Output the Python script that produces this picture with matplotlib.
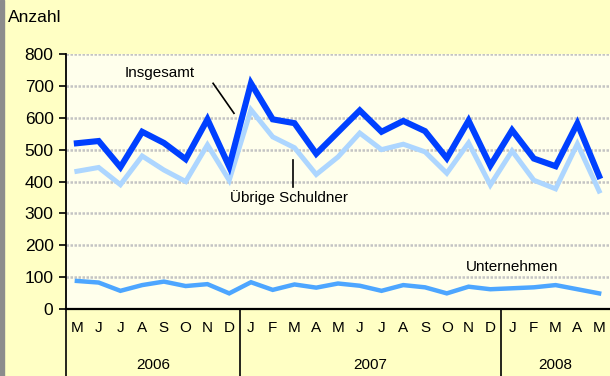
import matplotlib.pyplot as plt
from matplotlib.patches import Rectangle
import matplotlib.transforms as mtransforms

plt.rcParams['font.family'] = ['Liberation Sans', 'DejaVu Sans']

months = ['M', 'J', 'J', 'A', 'S', 'O', 'N', 'D',
          'J', 'F', 'M', 'A', 'M', 'J', 'J', 'A', 'S', 'O', 'N', 'D',
          'J', 'F', 'M', 'A', 'M']
years = ['2006', '2007', '2008']
year_spans = [(0, 7), (8, 19), (20, 24)]

insgesamt = [520, 527, 445, 556, 521, 470, 595, 447,
             708, 595, 583, 487, 555, 623, 556, 590, 558, 473, 591, 450,
             561, 472, 448, 582, 417]
uebrige = [432, 444, 390, 480, 436, 400, 515, 404,
           625, 540, 506, 422, 477, 552, 500, 517, 493, 426, 521, 389,
           496, 404, 377, 518, 370]
unternehmen = [88, 83, 57, 75, 86, 72, 78, 49,
               84, 60, 77, 67, 80, 73, 57, 75, 68, 49, 70, 62,
               65, 68, 75, 62, 49]

outer_bg = '#FFFFC4'
plot_bg = '#FFFFEC'

fig = plt.figure(figsize=(6.10, 3.76), dpi=100, facecolor=outer_bg)
fig.patches.append(Rectangle((0, 0), 4 / 610, 1, transform=fig.transFigure,
                             color='#8C8C8C', zorder=0))
ax = fig.add_axes([66 / 610, 67 / 376, 544 / 610, 255 / 376])
ax.set_facecolor(plot_bg)

x = range(len(months))
ax.plot(x, uebrige, color='#ADD6FF', lw=3.6, solid_joinstyle='miter', zorder=3)
ax.plot(x, insgesamt, color='#0040FF', lw=4.4, solid_joinstyle='miter', zorder=4)
ax.plot(x, unternehmen, color='#4DA6FF', lw=3.2, solid_joinstyle='miter', zorder=3)

ax.set_xlim(-0.5, len(months) - 0.5)
ax.set_ylim(0, 800)
ax.set_yticks(range(0, 801, 100))
ax.yaxis.grid(True, color='#C4C4C4', linestyle=(0, (1, 0.6)), linewidth=1.8)
ax.set_axisbelow(True)
ax.tick_params(axis='y', length=5, width=1.2, labelsize=12.5, pad=4)

for side in ['top', 'right']:
    ax.spines[side].set_visible(False)
ax.spines['left'].set_linewidth(1.3)
ax.spines['bottom'].set_linewidth(1.6)

ax.set_xticks(list(x))
ax.set_xticklabels(months, fontsize=11)
ax.tick_params(axis='x', length=0, pad=9)

# vertical separators below the axis: left edge and between years
trans = mtransforms.blended_transform_factory(ax.transData, fig.transFigure)
for sep in [-0.5, 7.5, 19.5]:
    ax.plot([sep, sep], [0, 67 / 376], transform=trans, color='black',
            lw=1.2, clip_on=False)

for label, (a, b) in zip(years, year_spans):
    ax.text((a + b) / 2, 11 / 376, label, transform=trans, ha='center',
            va='center', fontsize=11)

fig.text(8 / 610, 1 - 18 / 376, 'Anzahl', fontsize=12.5, va='center', ha='left')

# series labels with leader lines
ax.text(2.21, 740, 'Insgesamt', fontsize=11, va='center', ha='left')
ax.plot([6.26, 7.22], [708, 614], color='black', lw=1.2, zorder=5)
ax.text(7.04, 351, 'Übrige Schuldner', fontsize=11, va='center', ha='left')
ax.plot([9.93, 9.93], [467, 382], color='black', lw=1.2, zorder=5)
ax.text(20.0, 132, 'Unternehmen', fontsize=11, va='center', ha='center')

fig.savefig('out.png', dpi=100, facecolor=outer_bg)
